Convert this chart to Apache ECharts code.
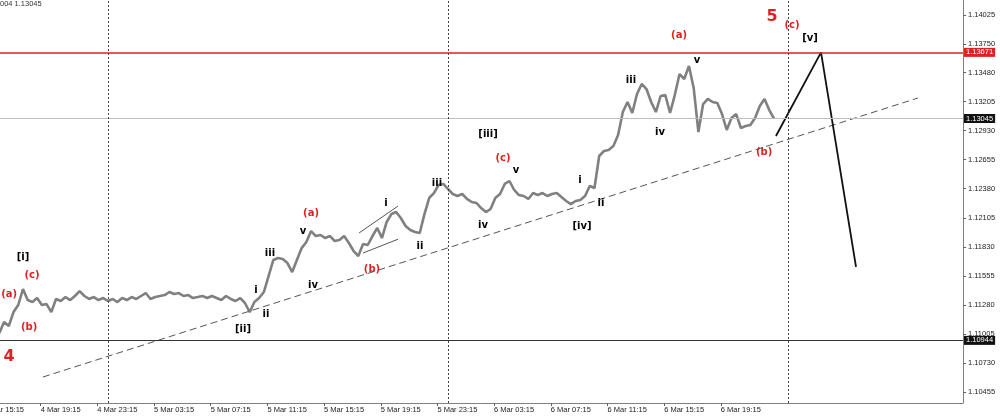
<!DOCTYPE html>
<html>
<head>
<meta charset="utf-8">
<script src="https://cdn.jsdelivr.net/npm/echarts@6/dist/echarts.min.js"></script>
<style>
html,body{margin:0;padding:0;background:#fff;}
#chart{width:1000px;height:417px;}
</style>
</head>
<body>
<div id="chart"></div>
<script>
// ---- data (time in hours since 4 Mar 00:00, prices in EURUSD) ----
const startHour = 16 + 20 / 60;      // first bar: 4 Mar 16:20
const stepHour = 1 / 3;              // 20-minute samples
const prices = [
  1.11013,1.11118,1.11080,1.11212,1.11279,1.11430,1.11326,1.11307,1.11345,1.11279,
  1.11288,1.11212,1.11336,1.11317,1.11354,1.11326,1.11364,1.11411,1.11364,1.11336,
  1.11354,1.11326,1.11345,1.11317,1.11336,1.11307,1.11345,1.11326,1.11354,1.11336,
  1.11364,1.11392,1.11336,1.11354,1.11364,1.11373,1.11402,1.11383,1.11392,1.11364,
  1.11373,1.11345,1.11354,1.11364,1.11345,1.11364,1.11345,1.11326,1.11364,1.11336,
  1.11317,1.11345,1.11298,1.11212,1.11307,1.11345,1.11402,1.11553,1.11705,1.11724,
  1.11714,1.11676,1.11591,1.11705,1.11818,1.11875,1.11979,1.11932,1.11942,1.11913,
  1.11932,1.11885,1.11894,1.11932,1.11866,1.11790,1.11743,1.11856,1.11847,1.11932,
  1.12008,1.11913,1.12065,1.12140,1.12159,1.12103,1.12027,1.11989,1.11970,1.11961,
  1.12140,1.12292,1.12339,1.12415,1.12425,1.12377,1.12330,1.12311,1.12330,1.12283,
  1.12254,1.12245,1.12197,1.12159,1.12188,1.12292,1.12330,1.12425,1.12453,1.12368,
  1.12320,1.12311,1.12283,1.12339,1.12320,1.12339,1.12311,1.12330,1.12339,1.12301,
  1.12264,1.12235,1.12264,1.12273,1.12311,1.12406,1.12387,1.12690,1.12737,1.12747,
  1.12784,1.12889,1.13106,1.13201,1.13097,1.13277,1.13372,1.13324,1.13201,1.13106,
  1.13258,1.13267,1.13097,1.13267,1.13466,1.13419,1.13542,1.13334,1.12917,1.13182,
  1.13230,1.13201,1.13192,1.13087,1.12936,1.13050,1.13087,1.12955,1.12974,1.12983,
  1.13050,1.13163,1.13230,1.13125,1.13045
];

const yTicks = [1.14025,1.13750,1.13480,1.13205,1.12930,1.12655,1.12380,1.12105,
                1.11830,1.11555,1.11280,1.11005,1.10730,1.10455];
const xTicks = [15.25,19.25,23.25,27.25,31.25,35.25,39.25,43.25,47.25,51.25,55.25,59.25,63.25,67.25];
const daySeparators = [24, 48, 72];

const resistance = 1.13671;   // red level
const lastPrice = 1.13045;    // current bid
const support = 1.10944;      // wave 4 level

// projected path [v] : [time, price]
const projTimes = [71.14, 74.32, 76.79];
const projPrices = [1.12879, 1.13671, 1.11639];
// trend line
const trendTimes = [19.41, 81.16];
const trendPrices = [1.10597, 1.13239];
// small channel around (b)
const chanUpTimes = [41.72, 44.47];
const chanUpPrices = [1.11961, 1.12216];
const chanLoTimes = [42.00, 44.47];
const chanLoPrices = [1.11771, 1.11902];

// wave labels
const waveText  = ['[i]','(c)','(a)','(b)','4','i','ii','[ii]','iii','iv','v','(a)','(b)','i','ii','iii',
                   '[iii]','(c)','v','iv','i','ii','[iv]','iii','iv','v','(a)','(b)','5','(c)','[v]'];
const waveKind  = ['k','r','r','r','R','k','k','k','k','k','k','r','r','k','k','k',
                   'k','r','k','k','k','k','k','k','k','k','r','r','R','r','k'];
const waveTime  = [18.00,18.64,17.02,18.43,17.02,34.45,35.15,33.53,35.43,38.47,37.76,38.33,42.63,43.62,46.02,47.22,
                   50.82,51.88,52.80,50.47,57.31,58.79,57.45,60.91,62.96,65.57,64.30,70.30,70.86,72.27,73.54];
const wavePrice = [1.11733,1.11563,1.11383,1.11070,1.10786,1.11421,1.11193,1.11051,1.11771,1.11468,1.11979,1.12150,1.11620,1.12245,1.11837,1.12434,
                   1.12898,1.12671,1.12557,1.12036,1.12462,1.12245,1.12027,1.13409,1.12917,1.13599,1.13836,1.12728,1.14006,1.13930,1.13807];

// ---- build chart ----
const RED = '#dd2222';
const AXIS_FONT = 'Liberation Sans';

function fmtTime(h){
  const day = 4 + Math.floor(h / 24);
  const rem = h - Math.floor(h / 24) * 24;
  const hh = Math.floor(rem + 1e-6);
  const mm = Math.round((rem - hh) * 60);
  return day + ' Mar ' + String(hh).padStart(2,'0') + ':' + String(mm).padStart(2,'0');
}

const chart = echarts.init(document.getElementById('chart'), null, {renderer:'canvas'});

const priceData = prices.map((p, i) => [startHour + i * stepHour, p]);
const pair = (ts, ps) => ts.map((t, i) => [t, ps[i]]);

const labelData = waveText.map((t, i) => {
  const k = waveKind[i];
  return {
    name: t,
    value: [waveTime[i], wavePrice[i]],
    label: {
      color: k === 'k' ? '#000' : RED,
      fontSize: k === 'R' ? 16 : 10,
      fontWeight: 'bold',
      fontFamily: 'DejaVu Sans',
      opacity: 1
    }
  };
});

function levelLabel(text, bg){
  return {
    show: true, position: 'end', distance: 1,
    formatter: text, color: '#fff', backgroundColor: bg,
    fontSize: 7.5, fontFamily: AXIS_FONT, padding: [1, 2, 0, 2], lineHeight: 8
  };
}

const option = {
  animation: false,
  backgroundColor: '#ffffff',
  grid: {left: -16, right: 37, top: 0, bottom: 14, containLabel: false, outerBoundsMode: 'none'},
  graphic: [{
    type: 'text', left: 0, top: 0,
    style: {text: '004 1.13045', font: '7.5px "Liberation Sans"', fill: '#333'}
  }],
  xAxis: {
    type: 'value', min: 15.25, max: 84.34,
    axisLine: {lineStyle: {color: '#808080', width: 1}},
    axisTick: {show: true, customValues: xTicks, length: 3, inside: false, lineStyle: {color: '#606060'}},
    axisLabel: {
      customValues: xTicks, formatter: v => fmtTime(v), align: 'left',
      fontSize: 7.5, fontFamily: AXIS_FONT, color: '#222', margin: 3
    },
    splitLine: {show: false}
  },
  yAxis: {
    type: 'value', position: 'right', min: 1.10351, max: 1.14167, scale: true,
    axisLine: {show: true, lineStyle: {color: '#808080', width: 1}},
    axisTick: {show: true, customValues: yTicks, length: 3, inside: false, lineStyle: {color: '#606060'}},
    axisLabel: {
      customValues: yTicks, formatter: v => v.toFixed(5),
      fontSize: 7.5, fontFamily: AXIS_FONT, color: '#222', margin: 5
    },
    splitLine: {show: false}
  },
  series: [
    {
      type: 'line', data: priceData, showSymbol: false, z: 3,
      lineStyle: {color: '#808080', width: 2.6},
      markLine: {
        silent: true, symbol: 'none', animation: false, precision: 5,
        data: [
          {yAxis: resistance, lineStyle: {color: RED, width: 1.5, type: 'solid'}, label: levelLabel('1.13671', RED)},
          {yAxis: lastPrice, lineStyle: {color: '#bdbdbd', width: 1, type: 'solid'}, label: levelLabel('1.13045', '#111')},
          {yAxis: support, lineStyle: {color: '#333', width: 1, type: 'solid'}, label: levelLabel('1.10944', '#111')}
        ].concat(daySeparators.map(d => ({
          xAxis: d, lineStyle: {color: '#444', width: 1, type: [2, 2]}, label: {show: false}
        })))
      }
    },
    {
      type: 'line', data: pair(trendTimes, trendPrices), showSymbol: false, z: 4,
      lineStyle: {color: '#555', width: 1, type: [7, 4]}
    },
    {
      type: 'line', data: pair(chanUpTimes, chanUpPrices), showSymbol: false, z: 4,
      lineStyle: {color: '#555', width: 1}
    },
    {
      type: 'line', data: pair(chanLoTimes, chanLoPrices), showSymbol: false, z: 4,
      lineStyle: {color: '#555', width: 1}
    },
    {
      type: 'line', data: pair(projTimes, projPrices), showSymbol: false, z: 4,
      lineStyle: {color: '#111', width: 1.8}
    },
    {
      type: 'scatter', data: labelData, symbol: 'circle', symbolSize: 0, z: 6,
      itemStyle: {color: '#ffffff', opacity: 1},
      emphasis: {disabled: true},
      label: {show: true, position: 'inside', formatter: p => p.name}
    }
  ]
};
chart.setOption(option);
</script>
</body>
</html>
